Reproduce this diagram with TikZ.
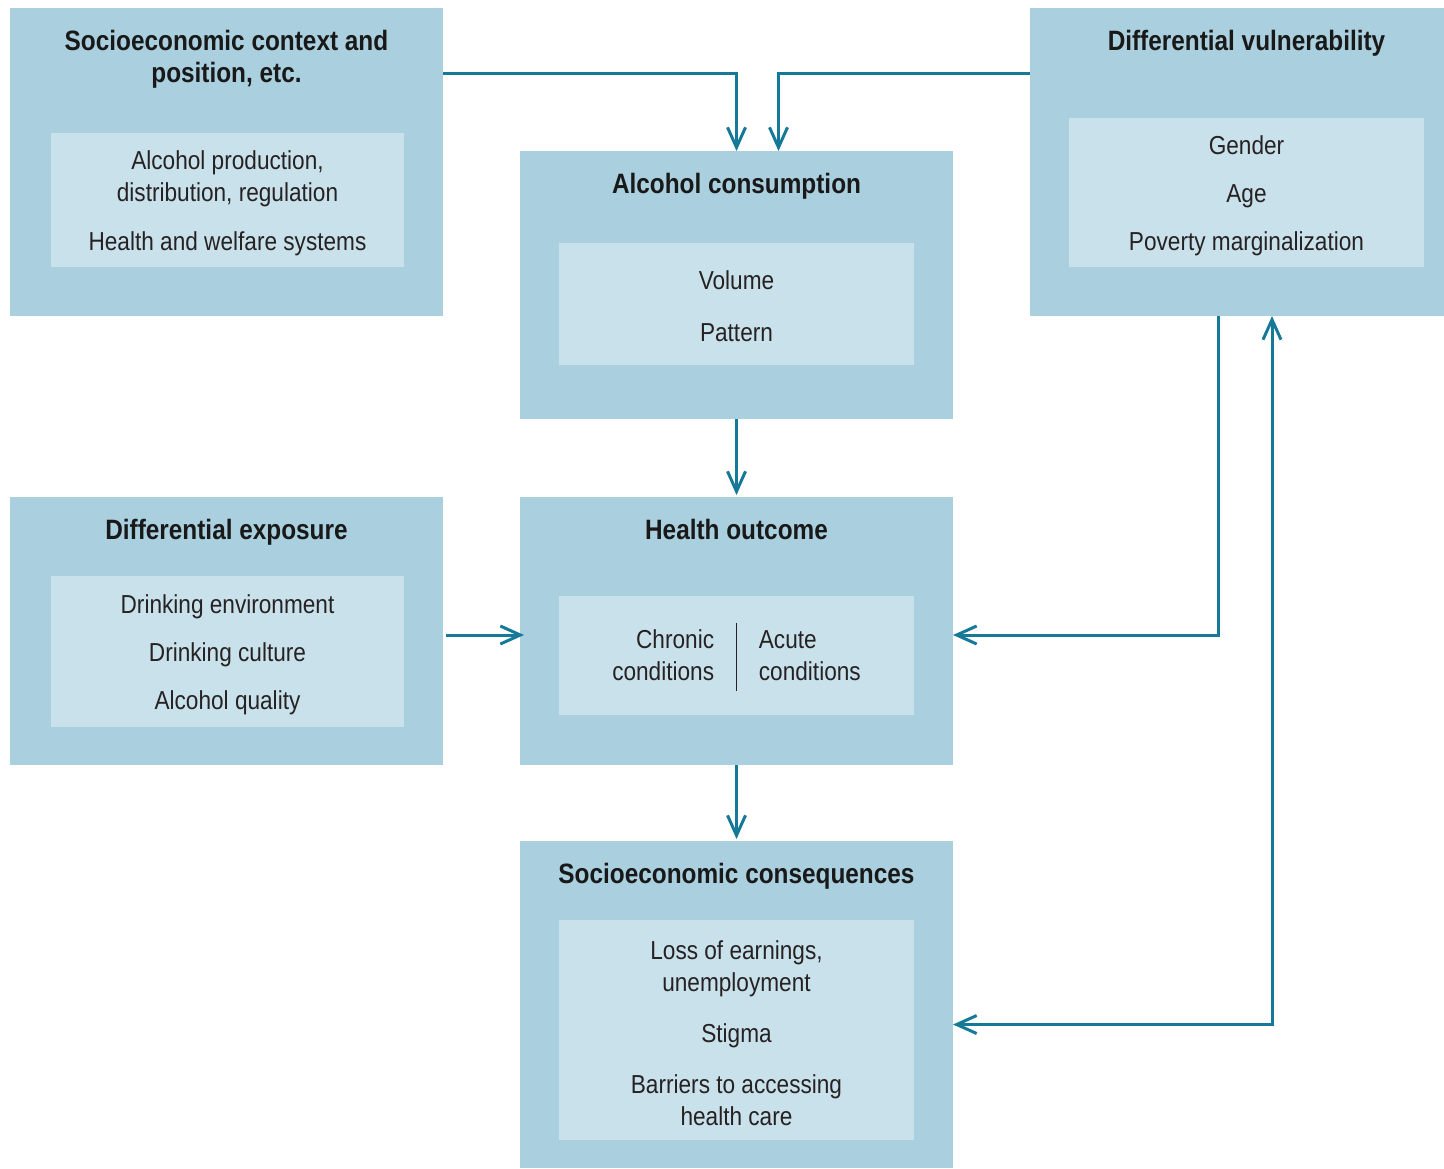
\documentclass[tikz,border=0pt]{standalone}
\usepackage{fontspec}
\setmainfont[FakeStretch=0.87]{Liberation Sans}
\usetikzlibrary{arrows.meta,positioning,fit,calc}
\definecolor{boxblue}{RGB}{170,208,223}
\definecolor{innerblue}{RGB}{201,225,234}
\definecolor{linkteal}{RGB}{22,121,151}
\definecolor{txtgray}{RGB}{38,34,36}

\begin{document}
\begin{tikzpicture}[x=0.5pt,y=-0.5pt,>={Straight Barb[length=10pt,width=9pt]},
    outer/.style={fill=boxblue,inner sep=0pt,outer sep=0pt},
    inbox/.style={fill=innerblue,inner sep=0pt,outer sep=0pt},
    head/.style={inner sep=0pt,align=center,text=black!90,font=\fontsize{14}{16}\selectfont\bfseries},
    body/.style={inner sep=0pt,align=center,text=txtgray,font=\fontsize{13}{16}\selectfont,yshift=-1.6pt},
    link/.style={->,draw=linkteal,line width=1.5pt}]

    \useasboundingbox (0,0) rectangle (1444,1168);
    \clip (0,0) rectangle (1444,1168);

    \node[outer,fit={(10,8) (443,316)}] (ctx) {};
    \node[outer,fit={(520,151) (953,419)}] (alc) {};
    \node[outer,fit={(1030,8) (1463,316)}] (vul) {};
    \node[outer,fit={(10,497) (443,765)}] (exp) {};
    \node[outer,fit={(520,497) (953,765)}] (out) {};
    \node[outer,fit={(520,841) (953,1168)}] (cons) {};

    \node[inbox,fit={(51,133) (404,267)}] (ctx-in) {};
    \node[inbox,fit={(559,243) (914,365)}] (alc-in) {};
    \node[inbox,fit={(1069,118) (1424,267)}] (vul-in) {};
    \node[inbox,fit={(51,576) (404,727)}] (exp-in) {};
    \node[inbox,fit={(559,596) (914,715)}] (out-in) {};
    \node[inbox,fit={(559,920) (914,1140)}] (cons-in) {};

    \node[head,below=11pt of ctx.north] (ctx-t) {Socioeconomic context and\\position, etc.};
    \node[head,below=11pt of alc.north] (alc-t) {Alcohol consumption};
    \node[head,below=11pt of vul.north] (vul-t) {Differential vulnerability};
    \node[head,below=11pt of exp.north] (exp-t) {Differential exposure};
    \node[head,below=11pt of out.north] (out-t) {Health outcome};
    \node[head,below=11pt of cons.north] (cons-t) {Socioeconomic consequences};

    \node[body] (ctx-b) at (ctx-in) {Alcohol production,\\distribution, regulation\\[8.5pt]Health and welfare systems};
    \node[body,yshift=0.6pt] (alc-b) at (alc-in) {Volume\\[10pt]Pattern};
    \node[body] (vul-b) at (vul-in) {Gender\\[8pt]Age\\[8pt]Poverty marginalization};
    \node[body] (exp-b) at (exp-in) {Drinking environment\\[8pt]Drinking culture\\[8pt]Alcohol quality};
    \node[body,align=right,anchor=east,yshift=1.6pt] (chr) at ($(out-in.center)+(-22,0)$) {Chronic\\conditions};
    \node[body,align=left,anchor=west,yshift=1.6pt] (acu) at ($(out-in.center)+(22,0)$) {Acute\\conditions};
    \draw[txtgray,line width=0.7pt] ($(out-in.center)+(0,-33)$) -- ($(out-in.center)+(0,35)$);
    \node[body] (cons-b) at (cons-in) {Loss of earnings,\\unemployment\\[9.5pt]Stigma\\[9.5pt]Barriers to accessing\\health care};

    \draw[link] ($(ctx.north east)+(0,65)$) -| (alc.north);
    \draw[link] ($(vul.north west)+(0,65)$) -| ($(alc.north)+(42,0)$);
    \draw[link,shorten >=1pt] (alc.south) -- (out.north);
    \draw[link,shorten <=1.5pt,shorten >=-2pt] ($(exp.east)+(0,4)$) -- ($(out.west)+(0,4)$);
    \draw[link] ($(vul.south west)+(188,0)$) |- ($(out.east)+(0,4)$);
    \draw[link,shorten >=1pt] (out.south) -- (cons.north);
    \draw[link,<->] ($(cons.east)+(0,20)$) -| ($(vul.south west)+(242,0)$);

\end{tikzpicture}
\end{document}
